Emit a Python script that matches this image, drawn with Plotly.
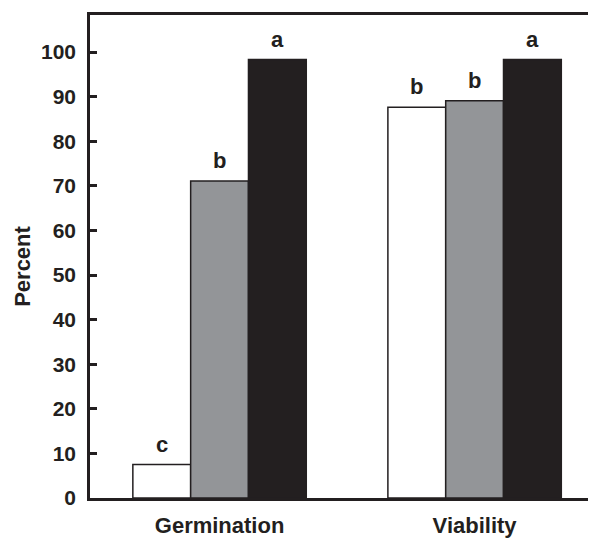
import plotly.graph_objects as go

categories = ["Germination", "Viability"]
series_names = ["Treatment 1", "Treatment 2", "Treatment 3"]
series_values = [
    [7.5, 87.6],
    [71.1, 89.1],
    [98.3, 98.3],
]
series_letters = [
    ["c", "b"],
    ["b", "b"],
    ["a", "a"],
]
y_tick_vals = [0, 10, 20, 30, 40, 50, 60, 70, 80, 90, 100]

colors = ["#ffffff", "#939598", "#231f20"]
ink = "#231f20"
font_family = "Liberation Sans, Arial, Helvetica, sans-serif"

bargap = 0.32
n_series = len(series_values)
bar_w = (1 - bargap) / n_series

fig = go.Figure()
xpos = list(range(len(categories)))
for j, (name, vals) in enumerate(zip(series_names, series_values)):
    fig.add_trace(go.Bar(
        x=xpos, y=vals, name=name,
        marker=dict(color=colors[j], line=dict(color=ink, width=1.5)),
        showlegend=False,
    ))

annotations = []
for j, (vals, letters) in enumerate(zip(series_values, series_letters)):
    for i, (v, t) in enumerate(zip(vals, letters)):
        annotations.append(dict(
            x=i + (j - (n_series - 1) / 2) * bar_w, y=v, xref="x", yref="y",
            text=t, showarrow=False, yanchor="bottom", yshift=6,
            font=dict(size=22, color=ink, family=font_family, weight="bold"),
        ))
annotations.append(dict(
    x=-0.134, y=0.479, xref="paper", yref="paper", text="Percent",
    textangle=-90, showarrow=False, xanchor="center", yanchor="middle",
    font=dict(size=22, color=ink, family=font_family, weight="bold"),
))

fig.update_layout(
    width=588, height=530,
    margin=dict(l=82, r=0, t=7, b=37),
    paper_bgcolor="white", plot_bgcolor="white",
    barmode="group", bargap=bargap, bargroupgap=0,
    font=dict(family=font_family, color=ink, weight="bold"),
    annotations=annotations,
    xaxis=dict(
        range=[-0.508, 1.476], tickvals=xpos, ticktext=categories,
        showline=True, linecolor=ink, linewidth=2.5, mirror=True,
        ticks="", showgrid=False, zeroline=False,
        tickfont=dict(size=22, family=font_family, color=ink, weight="bold"),
        ticklabelstandoff=6,
    ),
    yaxis=dict(
        range=[0, 108.3], tickvals=y_tick_vals,
        showline=True, linecolor=ink, linewidth=2.5,
        ticks="inside", ticklen=7, tickwidth=2.5, tickcolor=ink,
        showgrid=False, zeroline=False,
        tickfont=dict(size=21, family=font_family, color=ink, weight="bold"),
        ticklabelstandoff=7,
    ),
)

fig.write_html("out.html")
